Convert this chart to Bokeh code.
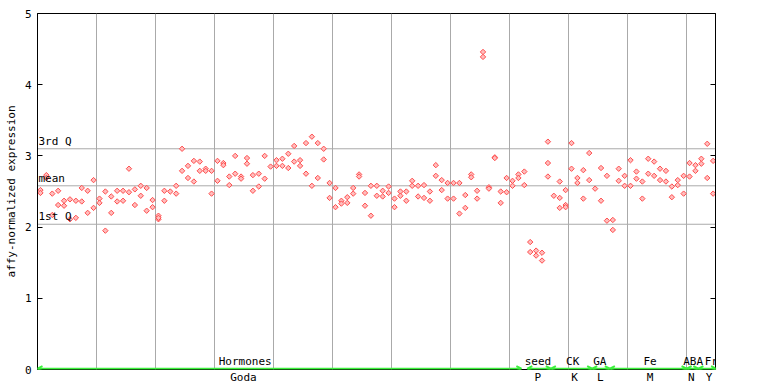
import numpy as np
from bokeh.plotting import figure
from bokeh.models import (Range1d, LinearAxis, FixedTicker, Grid, Span, Label, LabelSet,
                          ColumnDataSource, Arrow, OpenHead)
from bokeh.core.properties import value
from bokeh.embed import file_html
from bokeh.resources import INLINE

# ---- data -------------------------------------------------------------
rep_a = [2.52, 2.73, 2.47, 2.51, 2.37, 2.39, 2.37, 2.55, 2.51, 2.66,
         2.40, 2.50, 2.43, 2.51, 2.51, 2.82, 2.53, 2.58, 2.55, 2.38,
         2.16, 2.51, 2.50, 2.58, 3.10, 2.86, 2.93, 2.92, 2.82, 2.79,
         2.93, 2.90, 2.71, 3.00, 2.71, 2.97, 2.73, 2.75, 3.00, 2.85,
         2.94, 2.96, 3.03, 3.14, 2.94, 3.18, 3.27, 3.18, 3.10, 2.62,
         2.55, 2.37, 2.42, 2.55, 2.74, 2.48, 2.58, 2.58, 2.51, 2.57,
         2.40, 2.50, 2.50, 2.65, 2.58, 2.59, 2.50, 2.87, 2.66, 2.62,
         2.62, 2.62, 2.45, 2.74, 2.51, 4.46, 2.56, 2.98, 2.50, 2.69,
         2.65, 2.74, 2.78, 1.79, 1.67, 1.64, 3.20, 2.44, 2.64, 2.52,
         3.18, 2.69, 2.80, 3.04, 2.54, 2.83, 2.72, 2.10, 2.82, 2.72,
         2.94, 2.78, 2.64, 2.96, 2.92, 2.82, 2.79, 2.57, 2.66, 2.72,
         2.90, 2.87, 2.96, 3.17, 2.93]
rep_b = [2.48, 2.69, 2.17, 2.31, 2.30, 2.11, 2.13, 2.36, 2.20, 2.27,
         2.34, 1.95, 2.20, 2.36, 2.37, 2.49, 2.31, 2.44, 2.23, 2.28,
         2.11, 2.37, None, 2.47, 2.79, 2.69, 2.64, 2.79, 2.79, 2.47,
         2.65, 2.87, 2.59, 2.75, 2.68, 2.89, 2.51, 2.57, 2.68, None,
         2.86, 2.86, 2.83, 2.92, 2.86, 2.75, 2.58, 2.69, 2.95, 2.41,
         2.28, 2.33, 2.34, 2.47, 2.71, 2.30, 2.16, 2.44, 2.43, 2.48,
         2.28, 2.44, 2.37, 2.58, 2.43, 2.41, 2.37, 2.72, 2.52, 2.40,
         2.40, 2.19, 2.27, 2.70, 2.40, 4.39, 2.54, 2.97, 2.34, 2.49,
         2.58, 2.69, 2.59, 1.65, 1.60, 1.53, 2.90, None, 2.41, 2.31,
         2.82, 2.62, 2.40, 2.66, None, 2.37, 2.09, 1.96, 2.65, 2.58,
         2.58, 2.68, 2.40, 2.75, 2.72, 2.66, 2.64, 2.42, 2.59, 2.47,
         2.71, 2.79, 2.89, 2.69, 2.47]
extra_idx = [20, 86, 88, 89]
extra_val = [2.13, 2.71, 2.27, 2.28]

q1, mean_v, q3 = 2.04, 2.58, 3.10

group_top = ["Hormones", "seed", "CK", "GA", "Fe", "ABA", "Fr"]
group_bottom = ["Goda", "P", "K", "L", "M", "N", "Y"]
group_start = [0, 83, 87, 94, 97, 110, 112]
group_end = [82, 87, 94, 97, 110, 112, 115]
top_label_pos = [35.2, 84.8, 90.7, 95.3, 103.8, 111.1, 114.2]
bottom_label_pos = [34.9, 84.8, 91.0, 95.4, 103.8, 110.8, 113.8]

# ---- build ------------------------------------------------------------
n = len(rep_a)
xs, ys = [], []
for i in range(n):
    xs.append(i + 0.5); ys.append(rep_a[i])
    if rep_b[i] is not None:
        xs.append(i + 0.5); ys.append(rep_b[i])
for i, v in zip(extra_idx, extra_val):
    xs.append(i + 0.5); ys.append(v)

FONT = "DejaVu Sans Mono"
FS = "11px"
GREEN = "#3cf03c"
RED = "#ff4d4d"
GRID = "#aaaaaa"

p = figure(frame_width=678, frame_height=356, output_backend="svg", toolbar_location=None,
           x_range=Range1d(0, 114.9), y_range=Range1d(0, 5),
           x_axis_location=None, y_axis_location=None,
           min_border_left=37, min_border_right=53, min_border_top=13, min_border_bottom=0)
p.grid.visible = False
p.outline_line_color = "black"
p.outline_line_alpha = 1
p.background_fill_color = "white"
p.border_fill_color = "white"

yt = FixedTicker(ticks=[0, 1, 2, 3, 4, 5])
ax = LinearAxis(ticker=yt, axis_label="affy-normalized expression",
                major_tick_in=5, major_tick_out=0, minor_tick_line_color=None,
                major_label_standoff=6, axis_label_standoff=4,
                axis_line_color="black", major_tick_line_color="black",
                major_label_text_font=FONT, major_label_text_font_size=FS,
                axis_label_text_font=FONT, axis_label_text_font_size=FS,
                axis_label_text_font_style="normal", axis_label_text_color="black",
                major_label_text_color="black")
p.add_layout(ax, "left")
ax_r = LinearAxis(ticker=yt, major_tick_in=5, major_tick_out=0, minor_tick_line_color=None,
                  major_label_overrides={t: "" for t in [0, 1, 2, 3, 4, 5]},
                  major_label_standoff=0, major_label_text_font_size=FS,
                  axis_line_color="black", major_tick_line_color="black")
p.add_layout(ax_r, "right")

# lower group labels as a bottom axis (drawn outside the frame)
ax_b = LinearAxis(ticker=FixedTicker(ticks=bottom_label_pos),
                  major_label_overrides={pos: t for pos, t in zip(bottom_label_pos, group_bottom)},
                  major_tick_in=0, major_tick_out=0, minor_tick_line_color=None,
                  major_tick_line_color=None, axis_line_color=None,
                  major_label_standoff=1, major_label_text_font=FONT,
                  major_label_text_font_size=FS, major_label_text_color="black")
p.add_layout(ax_b, "below")

p.add_layout(Grid(dimension=0, ticker=FixedTicker(ticks=list(range(10, n, 10))),
                  grid_line_color=GRID, grid_line_width=1))
for q in (q1, mean_v, q3):
    p.add_layout(Span(location=q, dimension="width", line_color=GRID, line_width=1,
                      level="underlay"))
for q, t in ((q3, "3rd Q"), (mean_v, "mean"), (q1, "1st Q")):
    p.add_layout(Label(x=0, y=q, text=t, x_offset=1, y_offset=1, text_baseline="bottom",
                       text_font=FONT, text_font_size=FS, text_color="black"))

p.scatter(xs, ys, marker="square", angle=np.pi / 4, size=3.8,
          line_color=RED, line_width=1, fill_color="#ffbdbd")

arrow_y = 0.012  # lift by ~1px so the green band is not clipped by the frame
gsrc = ColumnDataSource(dict(x0=group_start, x1=group_end, y=[arrow_y] * len(group_start)))
p.add_layout(Arrow(start=OpenHead(size=5, line_color=GREEN, line_width=2),
                   end=OpenHead(size=5, line_color=GREEN, line_width=2),
                   x_start="x0", y_start="y", x_end="x1", y_end="y",
                   line_color=GREEN, line_width=2, source=gsrc))

tsrc = ColumnDataSource(dict(x=top_label_pos, y=[0] * len(top_label_pos), t=group_top))
p.add_layout(LabelSet(x="x", y="y", text="t", source=tsrc, y_offset=2,
                      text_align="center", text_baseline="bottom",
                      text_font=value(FONT), text_font_size=value(FS), text_color="black"))

open("out.html", "w").write(file_html(p, INLINE, title="expression"))
